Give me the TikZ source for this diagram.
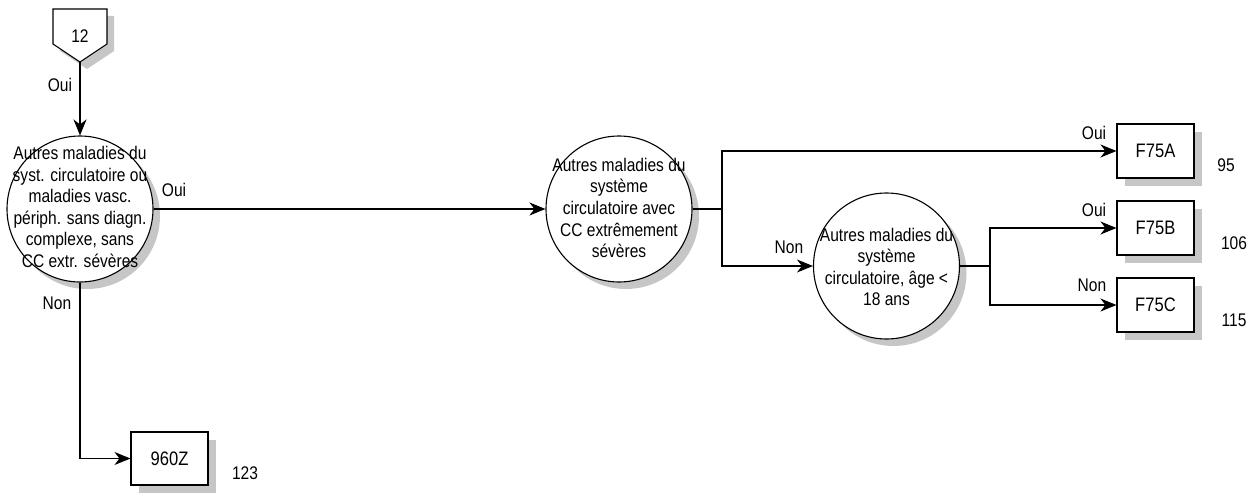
\documentclass[tikz,border=0pt]{standalone}
\usepackage{fontspec}
\setmainfont{Liberation Sans}
\newfontfamily\narrowsans[FakeStretch=0.85]{Liberation Sans}
\usetikzlibrary{arrows.meta,shadows}
\begin{document}
\begin{tikzpicture}[x=1pt,y=-1pt,
  line width=1.1pt,
  decision/.style={circle,draw,fill=white,minimum size=146pt,inner sep=0pt,
    drop shadow={shadow xshift=7pt,shadow yshift=-7pt,fill=gray!45,opacity=1}},
  ctext/.style={align=center,inner sep=0pt,font=\narrowsans\fontsize{18.3}{21.6}\selectfont},
  leaf/.style={rectangle,draw,fill=white,minimum width=77pt,minimum height=54pt,inner sep=0pt,
    font=\narrowsans\fontsize{19.5}{22}\selectfont,
    drop shadow={shadow xshift=8pt,shadow yshift=-8pt,fill=gray!45,opacity=1}},
  lbl/.style={font=\narrowsans\fontsize{18.3}{21}\selectfont,inner sep=0pt},
  arr/.style={-{Stealth[length=16pt,width=13pt,inset=5pt]}}
]
\useasboundingbox (0,0) rectangle (1259,495);

% pentagon connector "12"
\fill[gray!45] (60,16) -- (114,16) -- (114,51) -- (87,69) -- (60,51) -- cycle;
\draw[fill=white] (53,9) -- (107,9) -- (107,44) -- (80,62) -- (53,44) -- cycle;
\node[lbl] (p12) at (80,36) {12};
\coordinate (p12tip) at (80,62);

\node[decision] (c1) at (80,209) {};
\node[ctext] (t1) at (80,207) {Autres maladies du\\syst. circulatoire ou\\maladies vasc.\\périph. sans diagn.\\complexe, sans\\CC extr. sévères};
\node[decision] (c2) at (619,209) {};
\node[ctext] (t2) at (619,208) {Autres maladies du\\système\\circulatoire avec\\CC extrêmement\\sévères};
\node[decision] (c3) at (886.5,266) {};
\node[ctext] (t3) at (886.5,267) {Autres maladies du\\système\\circulatoire, âge <\\18 ans};

\node[leaf] (f75a) at (1155.5,151) {F75A};
\node[leaf] (f75b) at (1155.5,228) {F75B};
\node[leaf] (f75c) at (1155.5,305) {F75C};
\node[leaf,minimum height=53pt] (z960) at (169.5,458.5) {960Z};

\node[lbl] (n95) at (1226,165) {95};
\node[lbl] (n106) at (1234,243) {106};
\node[lbl] (n115) at (1234,320) {115};
\node[lbl] (n123) at (245,473) {123};

% connectors
\draw[arr] (p12tip) -- (c1.north);
\node[lbl] (l1) at (60,85) {Oui};

\draw[arr] (c1.east) -- (c2.west);
\node[lbl] (l2) at (174,190) {Oui};

\draw (c2.east) -- (722,209) coordinate (j1);
\draw[arr] (j1) |- (f75a.west);
\draw[arr] (j1) |- (c3.west);
\node[lbl] (l3) at (1094,133) {Oui};
\node[lbl] (l4) at (789,247) {Non};

\draw (c3.east) -- (990,266) coordinate (j2);
\draw[arr] (j2) |- (f75b.west);
\draw[arr] (j2) |- (f75c.west);
\node[lbl] (l5) at (1094,210) {Oui};
\node[lbl] (l6) at (1092,285) {Non};

\draw[arr] (c1.south) |- (z960.west);
\node[lbl] (l7) at (57,303) {Non};
\end{tikzpicture}
\end{document}
